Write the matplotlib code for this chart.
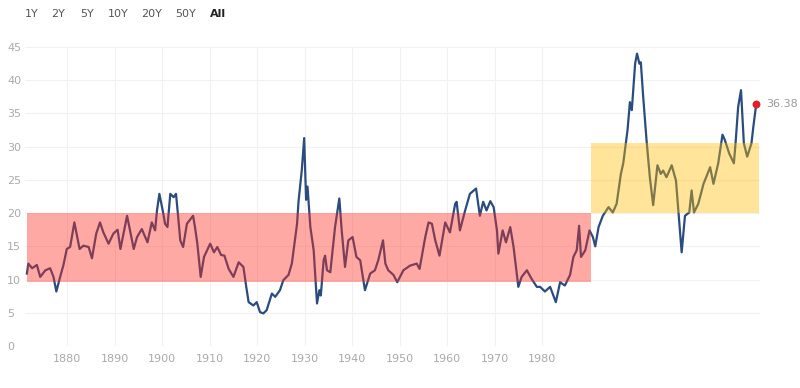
import numpy as np
import matplotlib.pyplot as plt
from matplotlib.patches import Rectangle

# CAPE-style valuation series
years = [1871.5, 1871.8, 1872.6, 1873.6, 1874.3, 1875.4, 1876.4, 1877.1, 1877.7, 1878.5,
         1879.2, 1879.9, 1880.6, 1881.5, 1882.6, 1883.4, 1884.5, 1885.2, 1886.1, 1886.9,
         1887.6, 1888.7, 1889.7, 1890.6, 1891.2, 1892.6, 1894.0, 1894.7, 1895.7, 1896.9,
         1897.8, 1898.5, 1898.9, 1899.4, 1900.1, 1900.6, 1901.1, 1901.7, 1902.4, 1902.9,
         1903.3, 1903.8, 1904.4, 1905.2, 1906.5, 1906.9, 1907.4, 1908.1, 1908.8, 1910.1,
         1910.9, 1911.6, 1912.4, 1913.1, 1914.0, 1915.0, 1916.1, 1917.1, 1917.7, 1918.2,
         1919.2, 1919.9, 1920.6, 1921.3, 1922.0, 1923.1, 1923.8, 1924.8, 1925.5, 1926.6,
         1927.3, 1928.4, 1928.7, 1929.4, 1929.9, 1930.3, 1930.6, 1931.2, 1931.9, 1932.6,
         1933.1, 1933.4, 1934.0, 1934.3, 1934.7, 1935.4, 1936.4, 1937.3, 1937.8, 1938.5,
         1939.2, 1940.1, 1940.9, 1941.7, 1942.7, 1943.8, 1944.8, 1945.5, 1946.5, 1947.0,
         1947.6, 1948.7, 1949.5, 1950.8, 1952.2, 1953.6, 1954.2, 1955.4, 1956.1, 1956.8,
         1957.5, 1958.4, 1959.6, 1960.6, 1961.7, 1962.0, 1962.7, 1963.8, 1964.8, 1966.1,
         1966.9, 1967.6, 1968.3, 1969.1, 1969.8, 1970.5, 1970.8, 1971.7, 1972.4, 1973.3,
         1974.0, 1975.0, 1975.7, 1976.8, 1977.8, 1978.9, 1979.6, 1980.6, 1981.7, 1982.9,
         1983.8, 1984.8, 1985.9, 1986.6, 1987.3, 1987.8, 1988.2, 1989.1, 1990.0, 1990.7,
         1991.2, 1991.9, 1992.8, 1994.0, 1994.9, 1995.7, 1996.6, 1997.1, 1998.0, 1998.5,
         1998.9, 1999.6, 2000.0, 2000.5, 2000.8, 2001.3, 2002.0, 2002.7, 2003.4, 2004.3,
         2005.0, 2005.5, 2006.2, 2007.3, 2008.2, 2008.7, 2009.4, 2010.1, 2011.0, 2011.5,
         2012.0, 2012.9, 2014.0, 2015.4, 2016.1, 2017.1, 2018.0, 2018.5, 2019.4, 2020.4,
         2020.8, 2021.3, 2021.9, 2022.5, 2023.2, 2024.1, 2024.5, 2025.1]
cape = [10.9, 12.4, 11.7, 12.2, 10.4, 11.4, 11.7, 10.4, 8.2, 10.4,
        12.2, 14.6, 14.9, 18.6, 14.6, 15.1, 14.9, 13.2, 16.9, 18.6,
        17.1, 15.4, 16.9, 17.5, 14.6, 19.6, 14.6, 16.4, 17.6, 15.6,
        18.6, 17.4, 20.4, 22.9, 20.4, 18.4, 17.9, 22.9, 22.4, 22.9,
        19.9, 15.9, 14.9, 18.4, 19.6, 17.9, 15.4, 10.4, 13.4, 15.4,
        14.1, 14.9, 13.7, 13.6, 11.6, 10.4, 12.6, 11.9, 8.9, 6.6,
        6.1, 6.6, 5.1, 4.9, 5.4, 7.9, 7.4, 8.4, 9.9, 10.7,
        12.4, 18.4, 21.7, 26.5, 31.3, 22.0, 24.0, 17.9, 14.4, 6.4,
        8.4, 7.6, 12.9, 13.6, 11.4, 11.1, 17.9, 22.2, 17.4, 11.9,
        15.9, 16.4, 13.4, 12.9, 8.4, 10.9, 11.4, 12.9, 15.9, 12.4,
        11.4, 10.7, 9.6, 11.4, 12.1, 12.4, 11.6, 16.4, 18.6, 18.4,
        15.9, 13.6, 18.6, 17.1, 21.4, 21.7, 17.4, 20.4, 22.9, 23.7,
        19.6, 21.7, 20.4, 21.8, 20.9, 17.4, 13.9, 17.4, 15.6, 17.9,
        14.9, 8.9, 10.4, 11.4, 10.1, 8.9, 8.9, 8.2, 8.9, 6.6,
        9.6, 9.1, 10.7, 13.4, 14.4, 18.1, 13.4, 14.4, 17.4, 16.4,
        15.0, 17.9, 19.6, 20.9, 20.1, 21.4, 25.9, 27.5, 32.5, 36.7,
        35.5, 42.5, 44.0, 42.5, 42.7, 37.5, 31.0, 25.4, 21.2, 27.2,
        25.9, 26.4, 25.4, 27.2, 24.9, 20.4, 14.1, 19.6, 20.1, 23.4,
        20.1, 21.4, 24.4, 26.9, 24.4, 27.5, 31.8, 31.0, 29.0, 27.5,
        31.0, 36.0, 38.5, 30.5, 28.5, 30.5, 33.0, 36.38]

# shaded valuation ranges
red_band = (1871.5, 1990.3, 9.6, 20.0)
yellow_band = (1990.3, 2025.7, 20.0, 30.6)

range_buttons = ['1Y', '2Y', '5Y', '10Y', '20Y', '50Y', 'All']
decades = list(range(1880, 1990, 10))

fig = plt.figure(figsize=(8, 3.88), dpi=100)
ax = fig.add_axes([25 / 800, 1 - 346 / 388, 735 / 800, 299 / 388])

ax.plot(years, cape, color='#2b4c7e', linewidth=1.6, zorder=2)

# bands sit on top of the line, so the line shows through tinted
for x0, x1, y0, y1, c in [(*red_band, '#ff2a1e'), (*yellow_band, '#ffbc00')]:
    ax.add_patch(Rectangle((x0, y0), x1 - x0, y1 - y0, facecolor=c,
                           alpha=0.4, edgecolor='none', zorder=3))

ax.scatter([years[-1]], [cape[-1]], s=22, color='#e0202a', zorder=5)
ax.annotate(f'{cape[-1]:.2f}', (years[-1], cape[-1]), xytext=(7, 0),
            textcoords='offset points', va='center', ha='left',
            fontsize=8, color='#999999', annotation_clip=False)

ax.set_xlim(1871.1, 2025.9)
ax.set_ylim(0, 45)
ax.set_yticks(range(0, 46, 5))
ax.set_xticks(decades)
ax.set_xticklabels([str(d) for d in decades])
ax.tick_params(length=0, labelsize=8, colors='#aaaaaa')
for lab in ax.get_yticklabels():
    lab.set_horizontalalignment('left')
ax.yaxis.set_tick_params(pad=13)
ax.xaxis.set_tick_params(pad=6)

ax.grid(True, color='#f1f1f1', linewidth=0.8, zorder=0)
ax.set_axisbelow(True)
for s in ax.spines.values():
    s.set_visible(False)

# range selector buttons along the top
btn_x = [32, 58, 87, 118, 152, 186, 218]
for name, bx in zip(range_buttons, btn_x):
    fig.text(bx / 800, 1 - 14 / 388, name, ha='center', va='center',
             fontsize=8, color='#222222' if name == 'All' else '#555555',
             fontweight='bold' if name == 'All' else 'normal')

fig.savefig('out.png', dpi=100)
